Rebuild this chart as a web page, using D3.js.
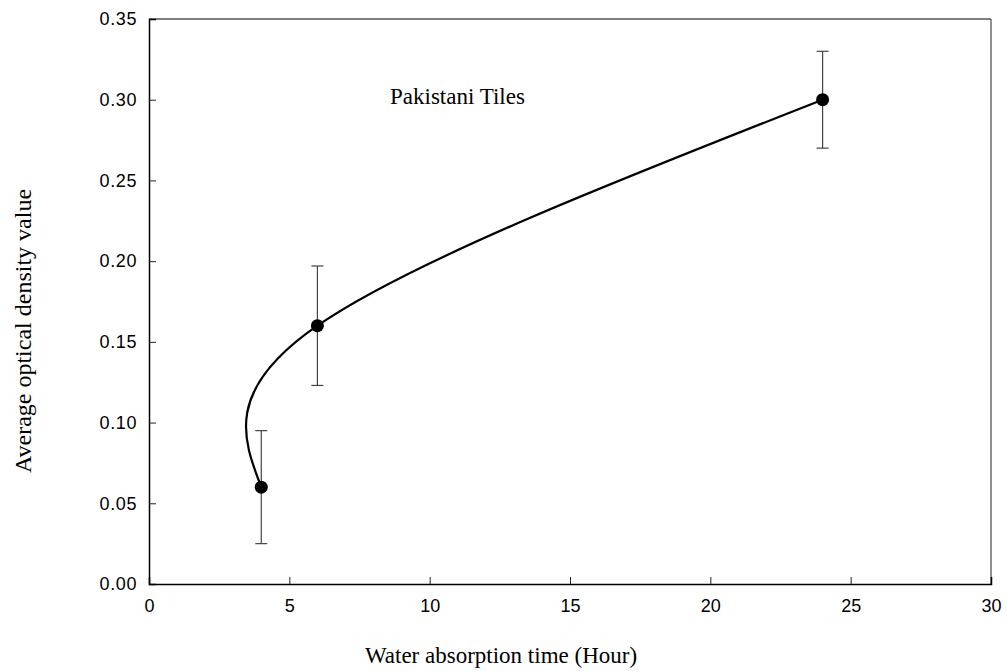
<!DOCTYPE html>
<html lang="en">
<head>
  <meta charset="UTF-8">
  <title>Pakistani Tiles</title>
  <style>
    body { margin: 0; background: #fff; }
    .tick text {
      font: 18px "Liberation Sans", Arial, sans-serif;
      fill: #000;
    }
    .title {
      font: 23px "Liberation Serif", "Times New Roman", serif;
      fill: #000;
    }
  </style>
</head>
<body>

  <div id="app"></div>

  <script src="https://cdn.jsdelivr.net/npm/d3@7"></script>
  <script>
    const hours = [4, 6, 24]
    const density = [0.06, 0.16, 0.30]
    const errors = [0.035, 0.037, 0.03]
    const xTicks = [0, 5, 10, 15, 20, 25, 30]
    const yTicks = [0, 0.05, 0.10, 0.15, 0.20, 0.25, 0.30, 0.35]

    const width = 1007, height = 671
    const margin = { top: 19, right: 16, bottom: 87, left: 149 }

    const svg = d3.select('#app').append('svg')
      .attr('width', width)
      .attr('height', height)

    const x = d3.scaleLinear().domain([0, 30]).range([margin.left, width - margin.right])
    const y = d3.scaleLinear().domain([0, 0.35]).range([height - margin.bottom, margin.top])

    // frame, top and right sides are lighter
    svg.append('line')
      .attr('x1', x(0)).attr('x2', x(30)).attr('y1', y(0.35)).attr('y2', y(0.35))
      .attr('stroke', '#555').attr('stroke-width', 1.3)
    svg.append('line')
      .attr('x1', x(30)).attr('x2', x(30)).attr('y1', y(0.35)).attr('y2', y(0))
      .attr('stroke', '#555').attr('stroke-width', 1.3)

    // axes with ticks pointing inwards
    const xAxis = svg.append('g')
      .attr('transform', `translate(0, ${y(0)})`)
      .call(d3.axisBottom(x).tickValues(xTicks).tickSize(-7).tickPadding(12).tickFormat(d3.format('d')))
    const yAxis = svg.append('g')
      .attr('transform', `translate(${x(0)}, 0)`)
      .call(d3.axisLeft(y).tickValues(yTicks).tickSize(-7).tickPadding(12).tickFormat(d3.format('.2f')))

    for (const ax of [xAxis, yAxis]) {
      ax.select('.domain').attr('stroke', '#000').attr('stroke-width', 1.5)
      ax.selectAll('.tick line').attr('stroke', '#222')
      ax.attr('font-family', null).attr('font-size', null)
    }
    xAxis.selectAll('.tick').filter(d => d === 0 || d === 30).select('line').remove()
    yAxis.selectAll('.tick').filter(d => d === 0 || d === 0.35).select('line').remove()
    xAxis.selectAll('.tick text').attr('dy', '0.9em')
    yAxis.selectAll('.tick text').attr('letter-spacing', 0.6)

    const pts = hours.map((h, i) => ({ h: h, v: density[i], e: errors[i] }))

    // error bars
    const bars = svg.append('g').attr('stroke', '#444').attr('stroke-width', 1.2)
    bars.selectAll('line.err').data(pts).enter().append('line')
      .attr('x1', d => x(d.h)).attr('x2', d => x(d.h))
      .attr('y1', d => y(d.v - d.e)).attr('y2', d => y(d.v + d.e))
    bars.selectAll('line.capTop').data(pts).enter().append('line')
      .attr('x1', d => x(d.h) - 6).attr('x2', d => x(d.h) + 6)
      .attr('y1', d => y(d.v + d.e)).attr('y2', d => y(d.v + d.e))
    bars.selectAll('line.capBottom').data(pts).enter().append('line')
      .attr('x1', d => x(d.h) - 6).attr('x2', d => x(d.h) + 6)
      .attr('y1', d => y(d.v - d.e)).attr('y2', d => y(d.v - d.e))

    // smooth spline through the means
    const line = d3.line()
      .x(d => x(d.h))
      .y(d => y(d.v))
      .curve(d3.curveNatural)

    svg.append('path')
      .datum(pts)
      .attr('d', line)
      .attr('fill', 'none')
      .attr('stroke', '#000')
      .attr('stroke-width', 2.2)

    svg.selectAll('circle').data(pts).enter().append('circle')
      .attr('cx', d => x(d.h))
      .attr('cy', d => y(d.v))
      .attr('r', 6.5)
      .attr('fill', '#000')

    // texts
    svg.append('text').attr('class', 'title')
      .attr('x', 501)
      .attr('y', 663)
      .attr('text-anchor', 'middle')
      .text('Water absorption time (Hour)')

    svg.append('text').attr('class', 'title')
      .attr('transform', `translate(31, 331) rotate(-90)`)
      .attr('text-anchor', 'middle')
      .style('font-size', '24px')
      .text('Average optical density value')

    svg.append('text').attr('class', 'title')
      .attr('x', 390)
      .attr('y', 104)
      .text('Pakistani Tiles')
  </script>
</body>
</html>
